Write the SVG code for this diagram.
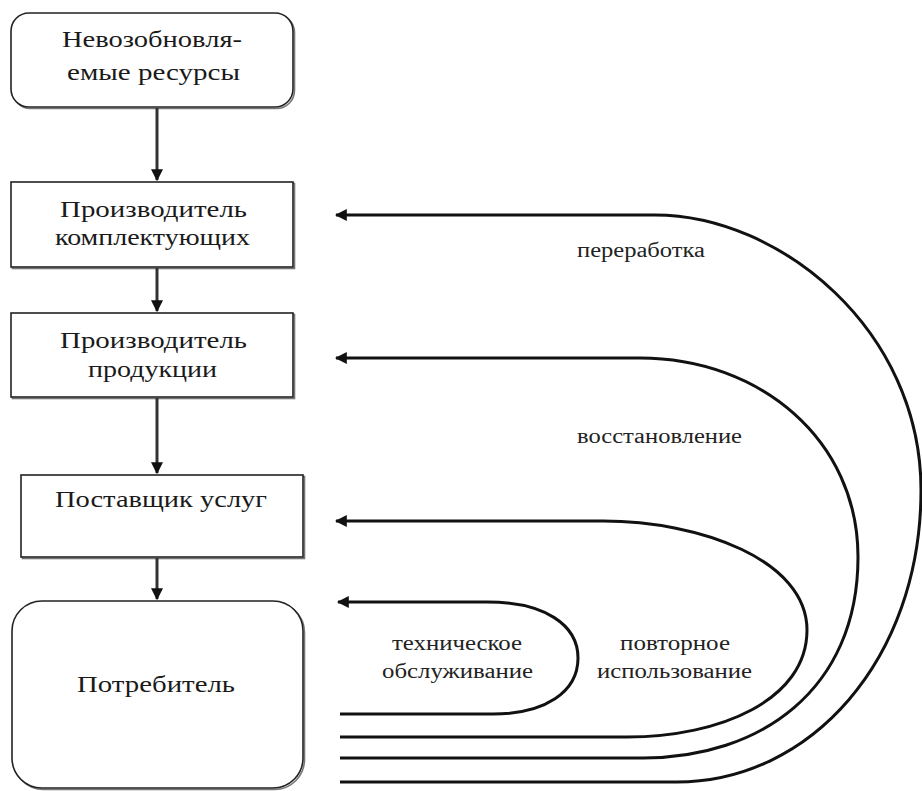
<svg xmlns="http://www.w3.org/2000/svg" width="922" height="791" viewBox="0 0 922 791">
<style>
.box{fill:#fff;stroke:#222;stroke-width:1.6}
.sh{fill:none;stroke:#777;stroke-width:1.6}
.t{font-family:'Liberation Serif','DejaVu Serif','Times New Roman',serif;font-size:24px;fill:#1a1a1a;text-anchor:middle}
.l{font-family:'Liberation Serif','DejaVu Serif','Times New Roman',serif;font-size:20px;fill:#222;text-anchor:middle}
.c{fill:none;stroke:#111;stroke-width:3}
.v{fill:none;stroke:#333;stroke-width:3}
</style>
<defs>
<marker id="ah" viewBox="0 0 10 10" refX="9" refY="5" markerWidth="4" markerHeight="4" orient="auto" markerUnits="strokeWidth">
<path d="M0,0 L10,5 L0,10 Z" fill="#111"/>
</marker>
</defs>
<g id="n1">
<rect class="sh" x="12.5" y="14.5" width="282" height="94" rx="18"/>
<rect class="box" x="11" y="13" width="282" height="94" rx="18"/>
<text class="t" font-family="Liberation Serif, DejaVu Serif, serif" x="152" y="47" textLength="180" lengthAdjust="spacingAndGlyphs">Невозобновля-</text>
<text class="t" font-family="Liberation Serif, DejaVu Serif, serif" x="153.5" y="80" textLength="173" lengthAdjust="spacingAndGlyphs">емые ресурсы</text>
</g>
<g id="n2">
<rect class="sh" x="12.5" y="183.5" width="282" height="85"/>
<rect class="box" x="11" y="182" width="282" height="85"/>
<text class="t" x="153.5" y="217" textLength="187" lengthAdjust="spacingAndGlyphs">Производитель</text>
<text class="t" x="152.5" y="245" textLength="195" lengthAdjust="spacingAndGlyphs">комплектующих</text>
</g>
<g id="n3">
<rect class="sh" x="12.5" y="314.5" width="282" height="84"/>
<rect class="box" x="11" y="313" width="282" height="84"/>
<text class="t" x="153.5" y="348" textLength="187" lengthAdjust="spacingAndGlyphs">Производитель</text>
<text class="t" x="152.5" y="377" textLength="129" lengthAdjust="spacingAndGlyphs">продукции</text>
</g>
<g id="n4">
<rect class="sh" x="22.5" y="476.5" width="282" height="82"/>
<rect class="box" x="21" y="475" width="282" height="82"/>
<text class="t" x="161" y="507" textLength="212" lengthAdjust="spacingAndGlyphs">Поставщик услуг</text>
</g>
<g id="n5">
<rect class="sh" x="13.5" y="602.5" width="291" height="187" rx="30"/>
<rect class="box" x="12" y="601" width="291" height="187" rx="30"/>
<text class="t" x="156" y="692" textLength="158" lengthAdjust="spacingAndGlyphs">Потребитель</text>
</g>
<g id="connectors">
<path class="v" d="M157,108 V180" marker-end="url(#ah)"/>
<path class="v" d="M157,268 V311" marker-end="url(#ah)"/>
<path class="v" d="M157,398 V473" marker-end="url(#ah)"/>
<path class="v" d="M157,558 V599" marker-end="url(#ah)"/>
<path class="c" d="M677,782 H340 M677,782 C810,782 921,660 921,490 C921,330 780,215 655,215 H336" marker-end="url(#ah)"/>
<path class="c" d="M643,758 H340 M643,758 C760,758 858,690 858,557 C858,440 760,358 640,358 H336" marker-end="url(#ah)"/>
<path class="c" d="M627,737 H340 M627,737 C720,737 807,700 807,630 C807,560 700,521 603,521 H336" marker-end="url(#ah)"/>
<path class="c" d="M493,714 H340 M493,714 C545,714 578,692 578,658 C578,625 545,602 487,602 H338" marker-end="url(#ah)"/>
</g>
<g id="labels">
<text class="l" x="641" y="257" textLength="128" lengthAdjust="spacingAndGlyphs">переработка</text>
<text class="l" x="659.5" y="443" textLength="165" lengthAdjust="spacingAndGlyphs">восстановление</text>
<text class="l" x="675" y="650" textLength="110" lengthAdjust="spacingAndGlyphs">повторное</text>
<text class="l" x="674.5" y="678" textLength="155" lengthAdjust="spacingAndGlyphs">использование</text>
<text class="l" x="457" y="650" textLength="130" lengthAdjust="spacingAndGlyphs">техническое</text>
<text class="l" x="457.5" y="678" textLength="151" lengthAdjust="spacingAndGlyphs">обслуживание</text>
</g>
</svg>
